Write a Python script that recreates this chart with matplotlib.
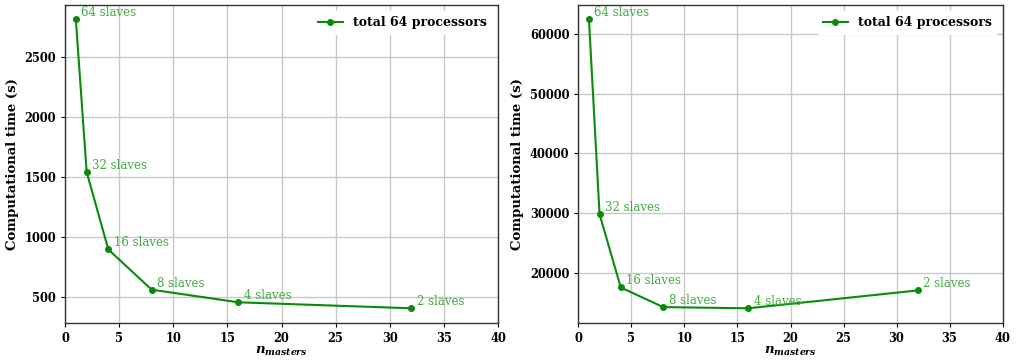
import numpy as np
import matplotlib
matplotlib.use("Agg")
import matplotlib.pyplot as plt

# dane
n_masters = [1, 2, 4, 8, 16, 32]
slaves_labels = ["64 slaves", "32 slaves", "16 slaves", "8 slaves", "4 slaves", "2 slaves"]
czas_lewy = [2810, 1540, 895, 560, 455, 405]
czas_prawy = [62500, 29800, 17500, 14200, 14000, 17000]
legenda = "total 64 processors"

plt.rcParams['font.family'] = 'DejaVu Serif'
plt.rcParams['mathtext.fontset'] = 'dejavuserif'

fig = plt.figure(figsize=(10.32, 3.61), dpi=100)
ax1 = fig.add_axes([0.063, 0.106, 0.4196, 0.880])
ax2 = fig.add_axes([0.5604, 0.106, 0.4112, 0.880])

kolor = '#0a8a0a'
kolor_tekst = '#45a845'

for ax, czas in [(ax1, czas_lewy), (ax2, czas_prawy)]:
    ax.plot(n_masters, czas, '-o', color=kolor, lw=1.5, ms=4, label=legenda, zorder=3)
    for x, y, t in zip(n_masters, czas, slaves_labels):
        ax.annotate(t, (x, y), xytext=(4, 0), textcoords='offset points',
                    color=kolor_tekst, fontsize=8.5, va='bottom', ha='left')
    ax.set_xlim(0, 40)
    ax.set_xticks(np.arange(0, 41, 5))
    ax.grid(True, color='#c8c8c8', lw=1)
    ax.set_axisbelow(True)
    ax.tick_params(labelsize=8.3, length=3, width=0.8)
    for lab in ax.get_xticklabels() + ax.get_yticklabels():
        lab.set_fontweight('bold')
    for s in ax.spines.values():
        s.set_color('#333333')
        s.set_linewidth(1.0)
    ax.set_xlabel(r'$\mathbfit{n}_{\mathbfit{masters}}$', fontsize=9.5, labelpad=0)
    ax.set_ylabel('Computational time (s)', fontsize=9.5, fontweight='bold')
    leg = ax.legend(loc='upper right', prop={'weight': 'bold', 'size': 9},
                    frameon=True, fancybox=False, edgecolor='white', framealpha=1)

fig.savefig('out.png', dpi=100)
